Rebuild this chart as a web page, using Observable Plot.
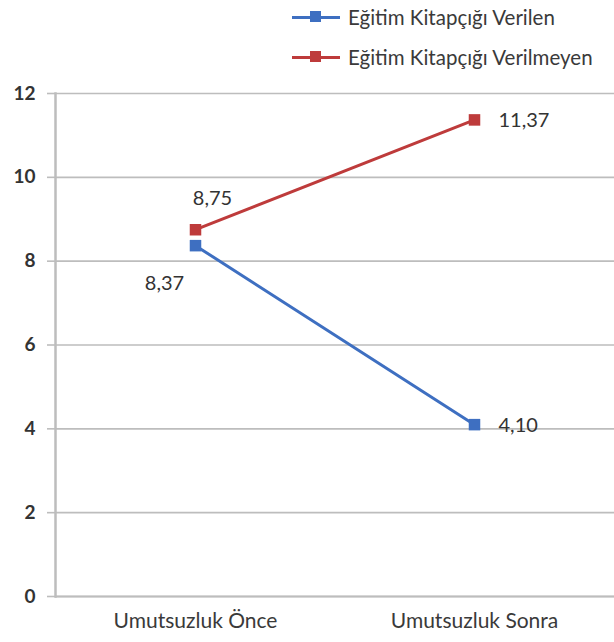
<!DOCTYPE html>
<html><head><meta charset="utf-8">
<script src="https://cdn.jsdelivr.net/npm/d3@7"></script>
<script src="https://cdn.jsdelivr.net/npm/@observablehq/plot@0.6"></script>
<style>
body{margin:0;background:#fff;font-family:Lato,"Open Sans",sans-serif;}
#legend{height:75px;position:relative;}
.item{position:absolute;left:292px;display:flex;align-items:center;font-size:20.5px;color:#3a3a3a;white-space:nowrap;}
.sw{position:relative;width:48px;height:3px;margin-right:8px;}
.sw i{position:absolute;left:18px;top:-4.5px;width:11px;height:11px;}
</style></head><body>
<div id="legend"></div>
<div id="chart"></div>
<script>
const categories = ["Umutsuzluk Önce", "Umutsuzluk Sonra"];
const seriesNames = ["Eğitim Kitapçığı Verilen", "Eğitim Kitapçığı Verilmeyen"];
const verilen = [8.37, 4.10];
const verilmeyen = [8.75, 11.37];
const yTicks = [0, 2, 4, 6, 8, 10, 12];
const colors = ["#3e6fc1", "#be3b3b"];

const fmt = v => v.toFixed(2).replace(".", ",");
const rows = [];
[verilen, verilmeyen].forEach((vals, s) => vals.forEach((v, i) => rows.push({series: seriesNames[s], cat: categories[i], value: v, idx: i})));

// legend
const leg = document.getElementById("legend");
seriesNames.forEach((n, s) => {
  const d = document.createElement("div");
  d.className = "item";
  d.style.top = (s === 0 ? 5 : 45) + "px";
  d.innerHTML = `<span class="sw" style="background:${colors[s]}"><i style="background:${colors[s]}"></i></span><span>${n}</span>`;
  leg.appendChild(d);
});

const color = {domain: seriesNames, range: colors};
const lab = (series, idx) => rows.filter(r => r.series === series && r.idx === idx);

const plot = Plot.plot({
  width: 614,
  height: 567,
  marginLeft: 55,
  marginRight: 0,
  marginTop: 18,
  marginBottom: 46,
  style: {fontFamily: "Lato, 'Open Sans', sans-serif", fontSize: "16px", color: "#3a3a3a", background: "#fff"},
  x: {type: "point", domain: categories, padding: 0.5, label: null},
  y: {domain: [0, 12], label: null},
  color,
  marks: [
    Plot.gridY(yTicks, {stroke: "#bdbdbd", strokeOpacity: 1, strokeWidth: 1.6}),
    Plot.axisY(yTicks, {tickSize: 8, tickPadding: 12, stroke: "#bdbdbd", strokeWidth: 1.6, fontWeight: "bold", fill: "#333", fontSize: 19, label: null}),
    Plot.frame({anchor: "left", stroke: "#bdbdbd", strokeWidth: 2.5}),
    Plot.ruleY([0], {stroke: "#bdbdbd", strokeWidth: 2}),
    Plot.axisX({tickSize: 0, tickPadding: 17, fill: "#3a3a3a", fontSize: 21, label: null}),
    Plot.line(rows, {x: "cat", y: "value", z: "series", stroke: d => d.series, strokeWidth: 3}),
    Plot.dot(rows, {x: "cat", y: "value", fill: d => d.series, symbol: "square", r: 6.5}),
    Plot.text(lab(seriesNames[1], 0), {x: "cat", y: "value", text: d => fmt(d.value), dx: 17, dy: -31, fontSize: 20, fill: "#333"}),
    Plot.text(lab(seriesNames[0], 0), {x: "cat", y: "value", text: d => fmt(d.value), dx: -31, dy: 38, fontSize: 20, fill: "#333"}),
    Plot.text(rows.filter(r => r.idx === 1), {x: "cat", y: "value", text: d => fmt(d.value), dx: 24, dy: 1, textAnchor: "start", fontSize: 20, fill: "#333"})
  ]
});
document.getElementById("chart").appendChild(plot);
</script>
</body></html>
